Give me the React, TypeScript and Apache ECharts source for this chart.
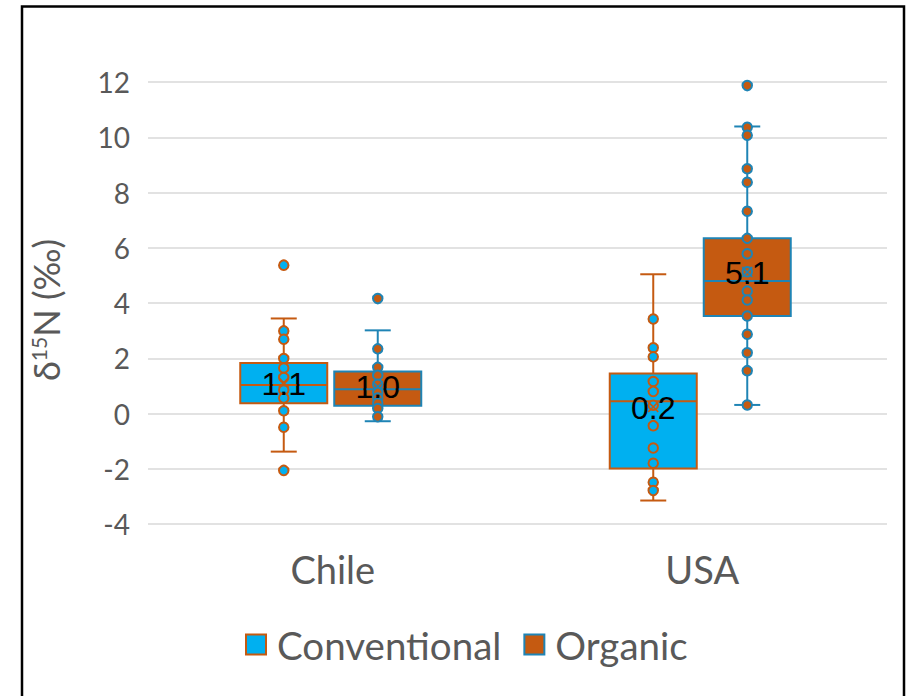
import React, { useEffect, useRef } from 'react';
import * as echarts from 'echarts';

const categories = ['Chile', 'USA'];
const yMin = -4;
const yMax = 12;
const yInterval = 2;
const seriesNames = ['Conventional', 'Organic'];

// [min whisker, Q1, median, Q3, max whisker] per category
const conventionalBox = [
  [-1.38, 0.37, 1.03, 1.83, 3.44],
  [-3.15, -1.99, 0.44, 1.45, 5.04],
];
const organicBox = [
  [-0.28, 0.28, 0.88, 1.52, 3.01],
  [0.31, 3.53, 4.8, 6.34, 10.39],
];
const conventionalMean = [1.12, 0.24];
const organicMean = [0.98, 5.12];

const conventionalPointsChile = [5.37, 2.99, 2.69, 1.99, 1.65, 1.3, 0.85, 0.56, 0.1, -0.5, -2.06];
const conventionalPointsUSA = [3.42, 2.38, 2.05, 1.16, 0.8, 0.3, -0.44, -1.25, -1.8, -2.49, -2.79];
const organicPointsChile = [4.16, 2.34, 1.67, 1.38, 1.06, 0.77, 0.56, 0.38, 0.18, -0.12];
const organicPointsUSA = [11.87, 10.36, 10.07, 8.86, 8.37, 7.32, 6.34, 5.78, 5.13, 4.43, 4.11, 3.53, 2.87, 2.2, 1.55, 0.31];

const BLUE_FILL = '#00B0F0';
const ORANGE = '#C55A11';
const TEAL = '#1F84B5';
const BOX_W = 87;
const CAP_W = 26;
const OFFSETS = [-49, 45];

function boxRenderer(offset: number, fill: string, stroke: string) {
  return (params: any, api: any) => {
    const idx = api.value(0);
    const cx = api.coord([idx, 0])[0] + offset;
    const y = (i: number) => api.coord([idx, api.value(i)])[1];
    const yLo = y(1), yQ1 = y(2), yMed = y(3), yQ3 = y(4), yHi = y(5);
    const hw = BOX_W / 2;
    const cw = CAP_W / 2;
    const ls = { stroke, lineWidth: 2 };
    return {
      type: 'group',
      children: [
        { type: 'line', shape: { x1: cx, y1: yQ3, x2: cx, y2: yHi }, style: ls },
        { type: 'line', shape: { x1: cx, y1: yQ1, x2: cx, y2: yLo }, style: ls },
        { type: 'line', shape: { x1: cx - cw, y1: yHi, x2: cx + cw, y2: yHi }, style: ls },
        { type: 'line', shape: { x1: cx - cw, y1: yLo, x2: cx + cw, y2: yLo }, style: ls },
        { type: 'rect', shape: { x: cx - hw, y: yQ3, width: BOX_W, height: yQ1 - yQ3 }, style: { fill, stroke, lineWidth: 2 } },
        { type: 'line', shape: { x1: cx - hw, y1: yMed, x2: cx + hw, y2: yMed }, style: ls },
      ],
    };
  };
}

function meanRenderer(offset: number, stroke: string) {
  return (params: any, api: any) => {
    const idx = api.value(0);
    const v = api.value(1);
    const p = api.coord([idx, v]);
    const cx = p[0] + offset;
    const cy = p[1];
    const s = 5;
    const ls = { stroke, lineWidth: 1.5 };
    return {
      type: 'group',
      children: [
        { type: 'line', shape: { x1: cx - s, y1: cy - s, x2: cx + s, y2: cy + s }, style: ls },
        { type: 'line', shape: { x1: cx - s, y1: cy + s, x2: cx + s, y2: cy - s }, style: ls },
        {
          type: 'text',
          style: {
            x: cx,
            y: cy + 1,
            text: v.toFixed(1),
            fill: '#000000',
            fontSize: 32,
            fontFamily: '"Liberation Sans", Arial, sans-serif',
            align: 'center',
            verticalAlign: 'middle',
          },
        },
      ],
    };
  };
}

const pointsFor = (chile: number[], usa: number[]) => [
  ...chile.map((v) => [0, v]),
  ...usa.map((v) => [1, v]),
];

export default function App() {
  const ref = useRef<HTMLDivElement>(null);
  useEffect(() => {
    if (!ref.current) return;
    const chart = echarts.init(ref.current, null, { renderer: 'svg' });
    const font = 'Lato, "Noto Sans", sans-serif';
    const boxes = [conventionalBox, organicBox];
    const means = [conventionalMean, organicMean];
    const fills = [BLUE_FILL, ORANGE];
    const strokes = [ORANGE, TEAL];
    const points = [
      pointsFor(conventionalPointsChile, conventionalPointsUSA),
      pointsFor(organicPointsChile, organicPointsUSA),
    ];
    const series: any[] = [];
    seriesNames.forEach((name, k) => {
      series.push({
        type: 'custom',
        name,
        z: 2,
        renderItem: boxRenderer(OFFSETS[k], fills[k], strokes[k]),
        data: boxes[k].map((b, i) => [i, ...b]),
        encode: { x: 0, y: [1, 2, 3, 4, 5] },
        itemStyle: { color: fills[k] },
        silent: true,
      });
    });
    seriesNames.forEach((name, k) => {
      series.push({
        type: 'scatter',
        name,
        z: 3,
        symbol: 'circle',
        symbolSize: 9.5,
        symbolOffset: [OFFSETS[k], 0],
        itemStyle: { color: fills[k], borderColor: strokes[k], borderWidth: 2, opacity: 1 },
        data: points[k],
        silent: true,
      });
    });
    seriesNames.forEach((name, k) => {
      series.push({
        type: 'custom',
        name,
        z: 4,
        renderItem: meanRenderer(OFFSETS[k], strokes[k]),
        data: means[k].map((m, i) => [i, m]),
        encode: { x: 0, y: 1 },
        silent: true,
      });
    });
    chart.setOption({
      animation: false,
      grid: { left: 148, right: 19, top: 82, bottom: 172, containLabel: false },
      xAxis: {
        type: 'category',
        data: categories,
        axisLine: { show: false },
        axisTick: { show: false },
        axisLabel: { color: '#595959', fontSize: 38, fontFamily: font, margin: 26 },
        splitLine: { show: false },
      },
      yAxis: {
        type: 'value',
        min: yMin,
        max: yMax,
        interval: yInterval,
        axisLine: { show: false },
        axisTick: { show: false },
        axisLabel: { color: '#595959', fontSize: 28, fontFamily: font, margin: 18 },
        splitLine: { lineStyle: { color: '#D9D9D9', width: 1.5 } },
      },
      legend: {
        left: 240,
        top: 620,
        itemWidth: 20,
        itemHeight: 20,
        itemGap: 22,
        selectedMode: false,
        textStyle: { color: '#595959', fontSize: 38.5, fontFamily: font, padding: [0, 0, 0, 6] },
        data: [
          { name: 'Conventional', icon: 'rect', itemStyle: { color: BLUE_FILL, borderColor: ORANGE, borderWidth: 2 } },
          { name: 'Organic', icon: 'rect', itemStyle: { color: ORANGE, borderColor: TEAL, borderWidth: 2 } },
        ],
      },
      graphic: [
        {
          type: 'rect',
          shape: { x: 22, y: 6.5, width: 882, height: 800 },
          style: { fill: 'none', stroke: '#000000', lineWidth: 2.5 },
          silent: true,
        },
        {
          type: 'text',
          x: 46,
          y: 310,
          rotation: Math.PI / 2,
          style: {
            text: 'δ{s|15}N (‰)',
            fill: '#595959',
            fontSize: 36,
            fontFamily: font,
            align: 'center',
            verticalAlign: 'middle',
            rich: {
              s: { fontSize: 21, fontFamily: font, fill: '#595959', verticalAlign: 'top', padding: [0, 0, 13, 0] },
            },
          },
          silent: true,
        },
      ],
      series,
    });
    return () => chart.dispose();
  }, []);
  return <div ref={ref} style={{ position: 'fixed', left: 0, top: 0, width: 906, height: 696, background: '#fff' }} />;
}
